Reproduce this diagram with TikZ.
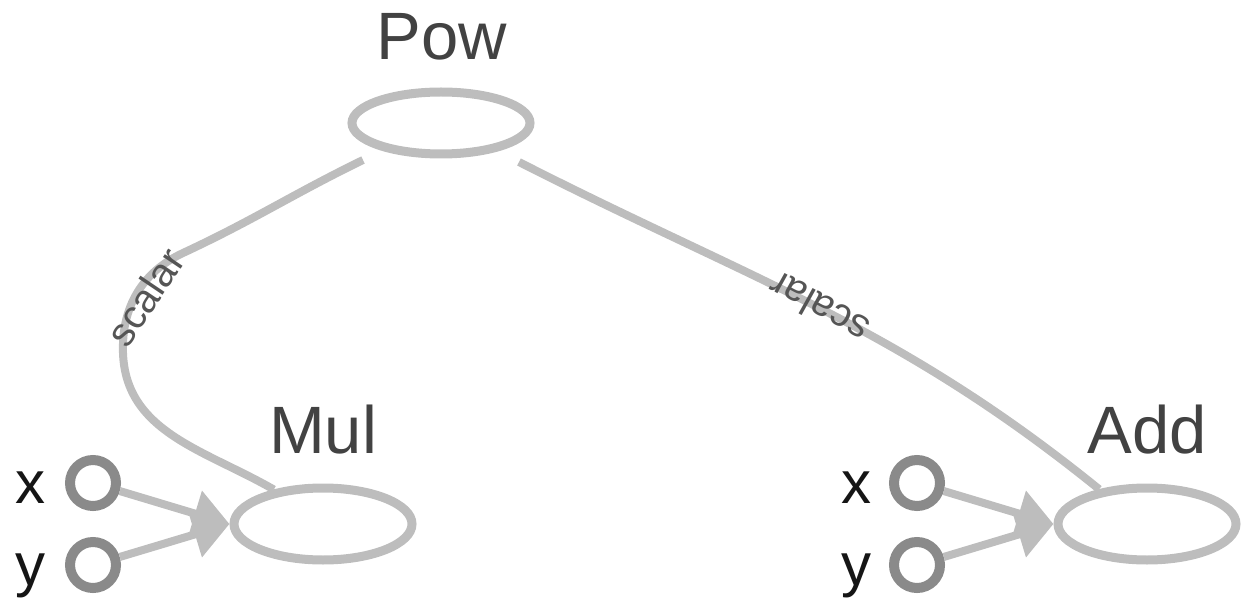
\documentclass[tikz,border=0pt]{standalone}
\usepackage{fontspec}
\setmainfont{Liberation Sans}
\usetikzlibrary{shapes.geometric,arrows.meta,calc}
\definecolor{edgegray}{HTML}{BDBDBD}
\definecolor{portgray}{HTML}{8A8A8A}
\definecolor{namegray}{HTML}{424242}
\definecolor{lblgray}{HTML}{555555}
\definecolor{portname}{HTML}{151515}
\begin{document}
\begin{tikzpicture}[x=1pt,y=1pt,
  opnode/.style={ellipse, draw=edgegray, line width=9pt, minimum width=178pt, minimum height=72pt, inner sep=0pt},
  portnode/.style={circle, draw=portgray, line width=10pt, minimum size=46pt, inner sep=0pt},
  opname/.style={text=namegray, font=\fontsize{67}{70}\selectfont, anchor=base, inner sep=0pt},
  portlabel/.style={text=portname, font=\fontsize{60}{64}\selectfont, anchor=base, inner sep=0pt},
  wire/.style={draw=edgegray, line width=8pt},
  inwire/.style={wire, -{Triangle[length=36pt,width=46pt]}},
  elabel/.style={text=lblgray, font=\fontsize{40}{44}\selectfont, inner sep=0pt}
]
\useasboundingbox (0,0) rectangle (1253,598);

% operation nodes
\node[opnode, minimum height=62pt] (pow) at (441,475) {};
\node[opnode] (mul) at (323,74) {};
\node[opnode] (add) at (1147,74) {};

\node[opname] (powname) at (442,538) {Pow};
\node[opname] (mulname) at (323,145) {Mul};
\node[opname] (addname) at (1147,145) {Add};

% ports
\node[portnode] (mx) at (93,115) {};
\node[portnode] (my) at (93,33) {};
\node[portnode] (ax) at (917,115) {};
\node[portnode] (ay) at (917,33) {};

\node[portlabel] (mxl) at (30,95) {x};
\node[portlabel] (myl) at (30,13) {y};
\node[portlabel] (axl) at (856,95) {x};
\node[portlabel] (ayl) at (856,13) {y};

% input arrows
\draw[inwire] (mx) -- (mul.west);
\draw[inwire] (my) -- (mul.west);
\draw[inwire] (ax) -- (add.west);
\draw[inwire] (ay) -- (add.west);

% edges from Pow
\coordinate (p1) at ($(pow.center)+(-78,-37)$);
\coordinate (p2) at ($(pow.center)+(78,-39)$);
\coordinate (a1) at (183,345);
\coordinate (m1) at (123,245);
\draw[wire] (p1) to[out=206,in=25] (a1) to[out=205,in=92] (m1) to[out=-88,in=150] (mul.145);
\draw[wire] (p2) to[out=-27,in=141] (add.144);

\node[elabel, rotate=56] (l1) at (145,301) {scalar};
\node[elabel, rotate=151] (l2) at (819,290) {scalar};
\end{tikzpicture}
\end{document}
